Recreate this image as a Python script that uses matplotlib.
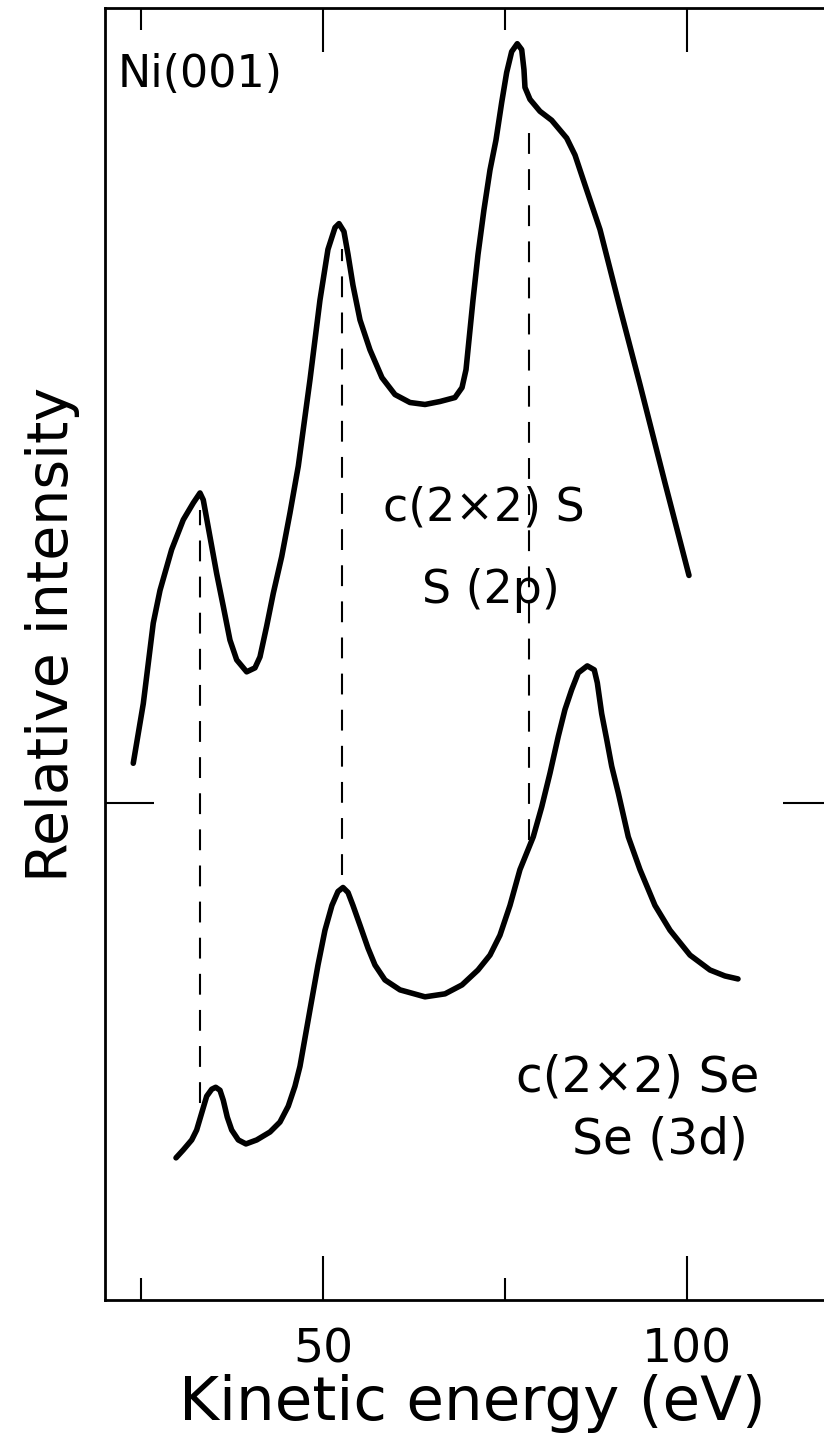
import matplotlib
matplotlib.use("Agg")
import matplotlib.pyplot as plt

# S(2p) curve, c(2x2)S on Ni(001)
s_energy = [23.89, 25.27, 26.64, 27.57, 29.17, 30.77, 32.15, 33.07, 33.52, 34.44,
            35.36, 36.27, 37.19, 38.12, 39.49, 40.63, 41.32, 42.24, 43.15, 44.31,
            45.45, 46.59, 48.20, 49.57, 50.67, 51.64, 52.19, 52.87, 53.43, 54.11,
            55.08, 56.45, 58.10, 59.89, 61.95, 64.02, 66.08, 68.14, 69.11, 69.66,
            70.07, 70.62, 71.31, 72.13, 72.96, 73.78, 74.57, 75.25, 75.94, 76.71,
            77.32, 77.63, 77.77, 78.46, 79.83, 81.44, 82.59, 83.51, 84.65, 86.02,
            88.09, 90.84, 93.59, 97.03, 100.33]
s_intensity = [5.40, 6.00, 6.81, 7.14, 7.55, 7.85, 8.02, 8.12, 8.05, 7.68,
               7.31, 6.98, 6.64, 6.44, 6.32, 6.36, 6.47, 6.78, 7.11, 7.48,
               7.92, 8.39, 9.26, 10.06, 10.57, 10.79, 10.83, 10.75, 10.52, 10.21,
               9.86, 9.56, 9.28, 9.11, 9.03, 9.01, 9.04, 9.08, 9.18, 9.36,
               9.66, 10.06, 10.52, 10.97, 11.37, 11.67, 12.05, 12.35, 12.56, 12.64,
               12.58, 12.38, 12.20, 12.08, 11.96, 11.87, 11.77, 11.69, 11.52, 11.22,
               10.77, 9.98, 9.21, 8.22, 7.29]

# Se(3d) curve, c(2x2)Se on Ni(001)
se_energy = [29.77, 30.77, 31.93, 32.61, 33.30, 33.99, 34.68, 35.23, 35.82, 36.27,
             36.82, 37.43, 38.34, 39.39, 40.87, 42.70, 44.07, 45.21, 46.13, 46.82,
             48.20, 49.30, 50.26, 51.22, 52.05, 52.74, 53.43, 54.11, 55.08, 56.18,
             57.14, 58.51, 60.58, 64.02, 66.77, 69.11, 71.31, 72.96, 74.33, 75.71,
             77.08, 78.91, 80.07, 81.21, 82.35, 83.27, 84.19, 85.10, 86.34, 87.30,
             87.72, 88.32, 89.01, 89.70, 90.61, 91.98, 93.59, 95.65, 97.72, 100.47,
             103.22, 105.28, 107.07]
se_intensity = [1.43, 1.51, 1.61, 1.71, 1.88, 2.05, 2.12, 2.14, 2.11, 2.01,
                1.84, 1.71, 1.61, 1.57, 1.61, 1.69, 1.79, 1.95, 2.15, 2.35,
                2.92, 3.37, 3.72, 3.97, 4.11, 4.15, 4.10, 3.97, 3.77, 3.54,
                3.37, 3.22, 3.12, 3.05, 3.08, 3.17, 3.32, 3.47, 3.67, 3.97,
                4.33, 4.66, 4.96, 5.30, 5.67, 5.94, 6.14, 6.31, 6.38, 6.34,
                6.21, 5.90, 5.64, 5.37, 5.10, 4.66, 4.33, 3.97, 3.72, 3.47,
                3.32, 3.26, 3.23]

# dashed guide lines linking the peaks
guide_x = [33.07, 52.6, 78.3]
guide_top = [7.95, 10.57, 11.80]
guide_bottom = [1.98, 4.28, 4.63]

plt.rcParams['lines.scale_dashes'] = False

fig = plt.figure(figsize=(8.24, 14.42), dpi=100)
ax = fig.add_axes([0.1274, 0.0985, 0.8823, 0.896])

for xs, ys in [(s_energy, s_intensity), (se_energy, se_intensity)]:
    ax.plot(xs, ys, color='black', lw=4, solid_capstyle='round',
            solid_joinstyle='round')
for gx, gt, gb in zip(guide_x, guide_top, guide_bottom):
    ax.plot([gx, gx], [gb, gt], color='black', lw=1.5, dashes=(15, 11))

ax.set_xlim(20, 120)
ax.set_ylim(0, 13)

ax.set_xticks([50, 100])
ax.set_xticks([25, 75], minor=True)
ax.set_yticks([5])
ax.set_yticklabels([])
ax.tick_params(axis='x', which='major', direction='in', length=32, width=1.5,
               top=True, labelsize=34, pad=20)
ax.tick_params(axis='x', which='minor', direction='in', length=16, width=1.5, top=True)
ax.tick_params(axis='y', direction='in', length=35, width=1.5, right=True)
for sp in ax.spines.values():
    sp.set_linewidth(2)

ax.set_xlabel('Kinetic energy (eV)', fontsize=44)
ax.xaxis.set_label_coords(0.505, -0.0575)
ax.set_ylabel('Relative intensity', fontsize=41)
ax.yaxis.set_label_coords(-0.034, 0.515)

ax.text(33.1, 12.33, 'Ni(001)', fontsize=32, ha='center', va='center')
ax.text(72.1, 7.97, 'c(2×2) S', fontsize=33, ha='center', va='center')
ax.text(73.1, 7.14, 'S (2p)', fontsize=33, ha='center', va='center')
ax.text(93.3, 2.24, 'c(2×2) Se', fontsize=35, ha='center', va='center')
ax.text(96.3, 1.61, 'Se (3d)', fontsize=35, ha='center', va='center')

fig.savefig('out.png', dpi=100)
